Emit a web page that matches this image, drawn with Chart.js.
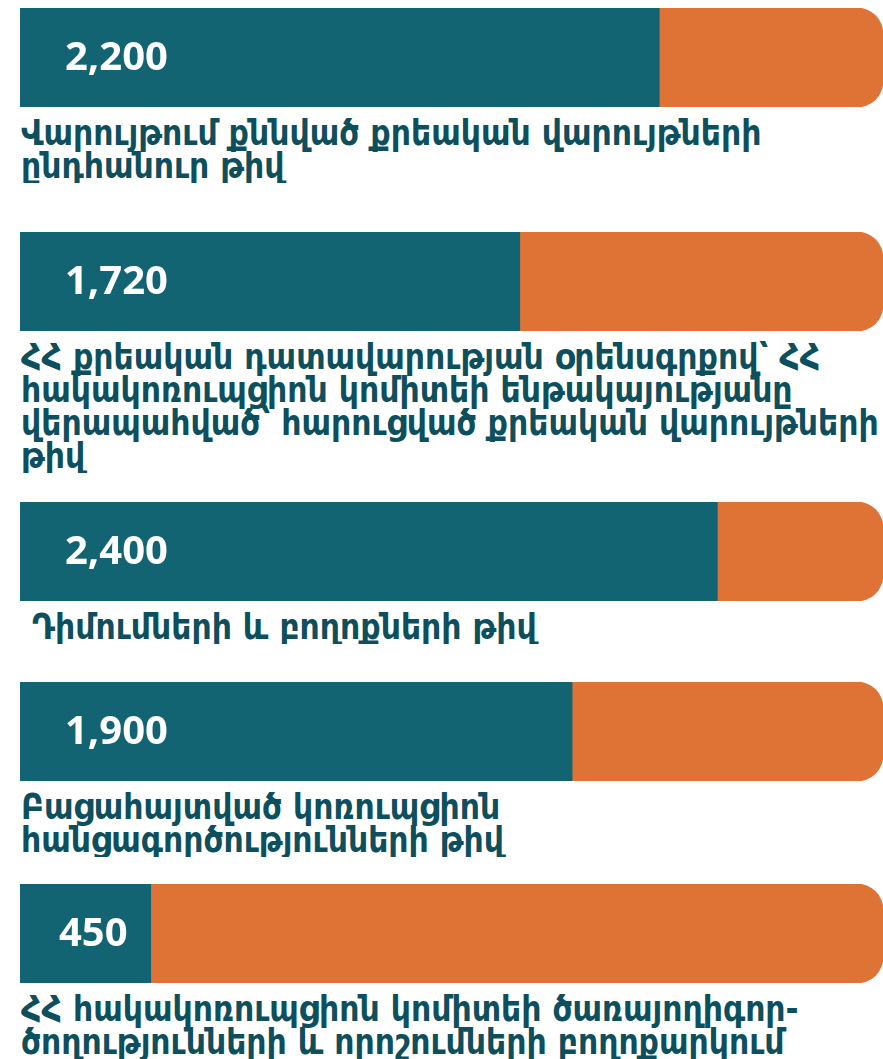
<!DOCTYPE html>
<html><head><meta charset="utf-8">
<script src="https://cdn.jsdelivr.net/npm/chart.js@4"></script>
<style>
html,body{margin:0;padding:0;background:#fff;width:883px;height:1059px;overflow:hidden;}
.row{position:absolute;left:0;width:883px;}
.bar{position:relative;width:883px;height:99px;}
.lbl{margin-left:21px;margin-top:10px;font-family:"DejaVu Sans Condensed","DejaVu Sans",sans-serif;font-weight:bold;font-size:35px;line-height:33px;color:#0d4f5c;white-space:nowrap;overflow:hidden;width:862px;}
</style></head><body>
<div class="row" style="top:8px"><div class="bar"><canvas id="c0" width="883" height="99"></canvas></div><div class="lbl" id="l0"></div></div>
<div class="row" style="top:232px"><div class="bar"><canvas id="c1" width="883" height="99"></canvas></div><div class="lbl" id="l1"></div></div>
<div class="row" style="top:502px"><div class="bar"><canvas id="c2" width="883" height="99"></canvas></div><div class="lbl" id="l2"></div></div>
<div class="row" style="top:682px"><div class="bar"><canvas id="c3" width="883" height="99"></canvas></div><div class="lbl" id="l3"></div></div>
<div class="row" style="top:884px"><div class="bar"><canvas id="c4" width="883" height="99"></canvas></div><div class="lbl" id="l4"></div></div>
<script>
const categories = [
  ["Վարույթում քննված քրեական վարույթների", "ընդհանուր թիվ"],
  ["ՀՀ քրեական դատավարության օրենսգրքով՝ ՀՀ", "հակակոռուպցիոն կոմիտեի ենթակայությանը", "վերապահված՝ հարուցված քրեական վարույթների", "թիվ"],
  ["\u00a0Դիմումների և բողոքների թիվ"],
  ["Բացահայտված կոռուպցիոն", "հանցագործությունների թիվ"],
  ["ՀՀ հակակոռուպցիոն կոմիտեի ծառայողիգոր-", "ծողությունների և որոշումների բողոքարկում"]
];
const values = [2200, 1720, 2400, 1900, 450];
const remainders = [770, 1250, 570, 1070, 2520];
const valueLabels = ["2,200", "1,720", "2,400", "1,900", "450"];
const axisMax = 2970;

const valuePlugin = {
  id: 'valueLabel',
  afterDatasetsDraw(chart) {
    const el = chart.getDatasetMeta(0).data[0];
    const ctx = chart.ctx;
    ctx.save();
    ctx.font = 'bold 40px "Open Sans", sans-serif';
    ctx.fillStyle = '#ffffff';
    ctx.textBaseline = 'middle';
    ctx.textAlign = 'left';
    const left = Math.min(el.base, el.x);
    const w = Math.abs(el.x - el.base);
    const pad = w < 200 ? 39 : 45;
    ctx.fillText(chart.options.plugins.valueLabel.text, left + pad, el.y + 1);
    ctx.restore();
  }
};

categories.forEach((lines, i) => {
  const lbl = document.getElementById('l' + i);
  lines.forEach((t) => {
    const d = document.createElement('div');
    d.textContent = t;
    lbl.appendChild(d);
  });
  new Chart(document.getElementById('c' + i), {
    type: 'bar',
    data: {
      labels: [lines.join(' ')],
      datasets: [
        { data: [values[i]], backgroundColor: '#136473', borderWidth: 0, borderRadius: 0, barPercentage: 1, categoryPercentage: 1 },
        { data: [remainders[i]], backgroundColor: '#DE7335', borderWidth: 0, borderRadius: 26, borderSkipped: 'start', barPercentage: 1, categoryPercentage: 1 }
      ]
    },
    options: {
      indexAxis: 'y',
      responsive: false,
      animation: false,
      layout: { padding: { left: 20, right: 0, top: 0, bottom: 0 } },
      scales: {
        x: { stacked: true, display: false, min: 0, max: axisMax },
        y: { stacked: true, display: false }
      },
      plugins: { legend: { display: false }, tooltip: { enabled: false }, valueLabel: { text: valueLabels[i] } }
    },
    plugins: [valuePlugin]
  });
});
</script>
</body></html>
